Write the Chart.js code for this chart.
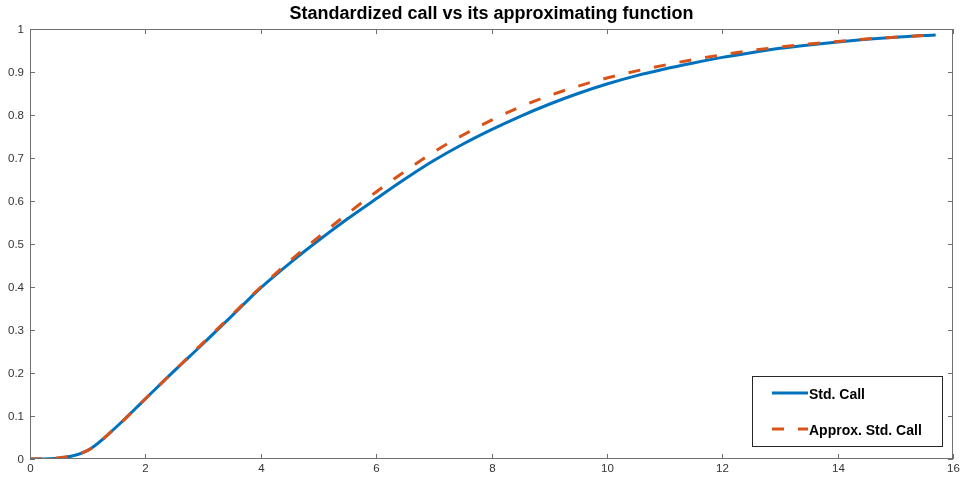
<!DOCTYPE html>
<html>
<head>
<meta charset="utf-8">
<script src="https://cdn.jsdelivr.net/npm/chart.js@4/dist/chart.umd.min.js"></script>
<style>
  html, body { margin: 0; padding: 0; background: #fff; }
  #wrap { width: 962px; height: 481px; }
</style>
</head>
<body>
<div id="wrap"><canvas id="callChart"></canvas></div>
<script>
// values
const xValues = [0, 0.5, 1, 1.5, 2, 2.5, 3, 3.5, 4, 4.5, 5, 5.5, 6, 6.5, 7, 7.5, 8,
                 8.5, 9, 9.5, 10, 10.5, 11, 11.5, 12, 12.5, 13, 13.5, 14, 14.5, 15, 15.5, 15.7];
const stdCall = [0, 0.002, 0.02, 0.075, 0.14, 0.205, 0.268, 0.333, 0.398, 0.455, 0.508, 0.558,
                 0.605, 0.651, 0.694, 0.732, 0.766, 0.797, 0.825, 0.85, 0.872, 0.891, 0.907,
                 0.921, 0.934, 0.945, 0.955, 0.963, 0.97, 0.976, 0.981, 0.985, 0.986];
const approxCall = [0, 0.003, 0.02, 0.075, 0.14, 0.205, 0.27, 0.335, 0.4, 0.46, 0.516, 0.57,
                    0.621, 0.669, 0.714, 0.753, 0.788, 0.819, 0.845, 0.867, 0.886, 0.902, 0.916,
                    0.929, 0.94, 0.95, 0.958, 0.965, 0.971, 0.977, 0.981, 0.985, 0.986];
const xTicks = [0, 2, 4, 6, 8, 10, 12, 14, 16];
const yTicks = [0, 0.1, 0.2, 0.3, 0.4, 0.5, 0.6, 0.7, 0.8, 0.9, 1];
const seriesNames = ['Std. Call', 'Approx. Std. Call'];

const BLUE = '#0072BD';
const ORANGE = '#D95319';
const AXIS = '#707070';
const FONT = '"Liberation Sans", Arial, sans-serif';
const DASH = [12, 14];

const toPoints = (ys) => xValues.map((x, i) => ({ x: x, y: ys[i] }));

// matlab-like box, inward ticks, labels, title and legend
const matlabAxes = {
    id: 'matlabAxes',
    afterDraw(chart) {
        const ctx = chart.ctx;
        const area = chart.chartArea;
        const xs = chart.scales.x;
        const ys = chart.scales.y;
        const tick = 5;

        ctx.save();
        ctx.strokeStyle = AXIS;
        ctx.lineWidth = 1;
        ctx.strokeRect(area.left + 0.5, area.top + 0.5, area.right - area.left - 1, area.bottom - area.top - 1);

        ctx.fillStyle = '#333';
        ctx.font = '11.5px ' + FONT;

        // x ticks
        ctx.textAlign = 'center';
        ctx.textBaseline = 'top';
        xTicks.forEach(v => {
            const px = Math.round(xs.getPixelForValue(v)) + 0.5;
            ctx.beginPath();
            ctx.moveTo(px, area.bottom);
            ctx.lineTo(px, area.bottom - tick);
            ctx.moveTo(px, area.top);
            ctx.lineTo(px, area.top + tick);
            ctx.stroke();
            ctx.fillText(String(v), px, area.bottom + 4);
        });

        // y ticks
        ctx.textAlign = 'right';
        ctx.textBaseline = 'middle';
        yTicks.forEach(v => {
            const py = Math.round(ys.getPixelForValue(v)) + 0.5;
            ctx.beginPath();
            ctx.moveTo(area.left, py);
            ctx.lineTo(area.left + tick, py);
            ctx.moveTo(area.right, py);
            ctx.lineTo(area.right - tick, py);
            ctx.stroke();
            ctx.fillText(String(Math.round(v * 10) / 10), area.left - 6, py);
        });

        // title
        ctx.fillStyle = '#000';
        ctx.font = 'bold 18px ' + FONT;
        ctx.textAlign = 'center';
        ctx.textBaseline = 'middle';
        ctx.fillText('Standardized call vs its approximating function', (area.left + area.right) / 2, 14);

        // legend box
        const lx = 752, ly = 376, lw = 190, lh = 70;
        ctx.fillStyle = '#fff';
        ctx.fillRect(lx, ly, lw, lh);
        ctx.strokeStyle = '#262626';
        ctx.strokeRect(lx + 0.5, ly + 0.5, lw, lh);

        const rows = [
            { name: seriesNames[0], color: BLUE, dash: [], y: ly + 17 },
            { name: seriesNames[1], color: ORANGE, dash: DASH, y: ly + 53 }
        ];
        ctx.font = 'bold 14px ' + FONT;
        ctx.textAlign = 'left';
        rows.forEach(r => {
            ctx.strokeStyle = r.color;
            ctx.lineWidth = 3;
            ctx.setLineDash(r.dash);
            ctx.beginPath();
            ctx.moveTo(lx + 20, r.y);
            ctx.lineTo(lx + 56, r.y);
            ctx.stroke();
            ctx.setLineDash([]);
            ctx.fillStyle = '#000';
            ctx.fillText(r.name, lx + 57, r.y + 2);
        });
        ctx.restore();
    }
};

new Chart(document.getElementById('callChart'), {
    type: 'line',
    data: {
        datasets: [
            {
                label: seriesNames[0],
                data: toPoints(stdCall),
                borderColor: BLUE,
                borderWidth: 3,
                pointRadius: 0,
                cubicInterpolationMode: 'monotone',
                order: 2
            },
            {
                label: seriesNames[1],
                data: toPoints(approxCall),
                borderColor: ORANGE,
                borderWidth: 3,
                borderDash: DASH,
                pointRadius: 0,
                cubicInterpolationMode: 'monotone',
                order: 1
            }
        ]
    },
    options: {
        responsive: true,
        maintainAspectRatio: false,
        animation: false,
        layout: { padding: { left: 30, right: 9, top: 29, bottom: 22 } },
        plugins: {
            legend: { display: false },
            tooltip: { enabled: false },
            title: { display: false }
        },
        scales: {
            x: { type: 'linear', min: 0, max: 16, display: false },
            y: { type: 'linear', min: 0, max: 1, display: false }
        }
    },
    plugins: [matlabAxes]
});
</script>
</body>
</html>
